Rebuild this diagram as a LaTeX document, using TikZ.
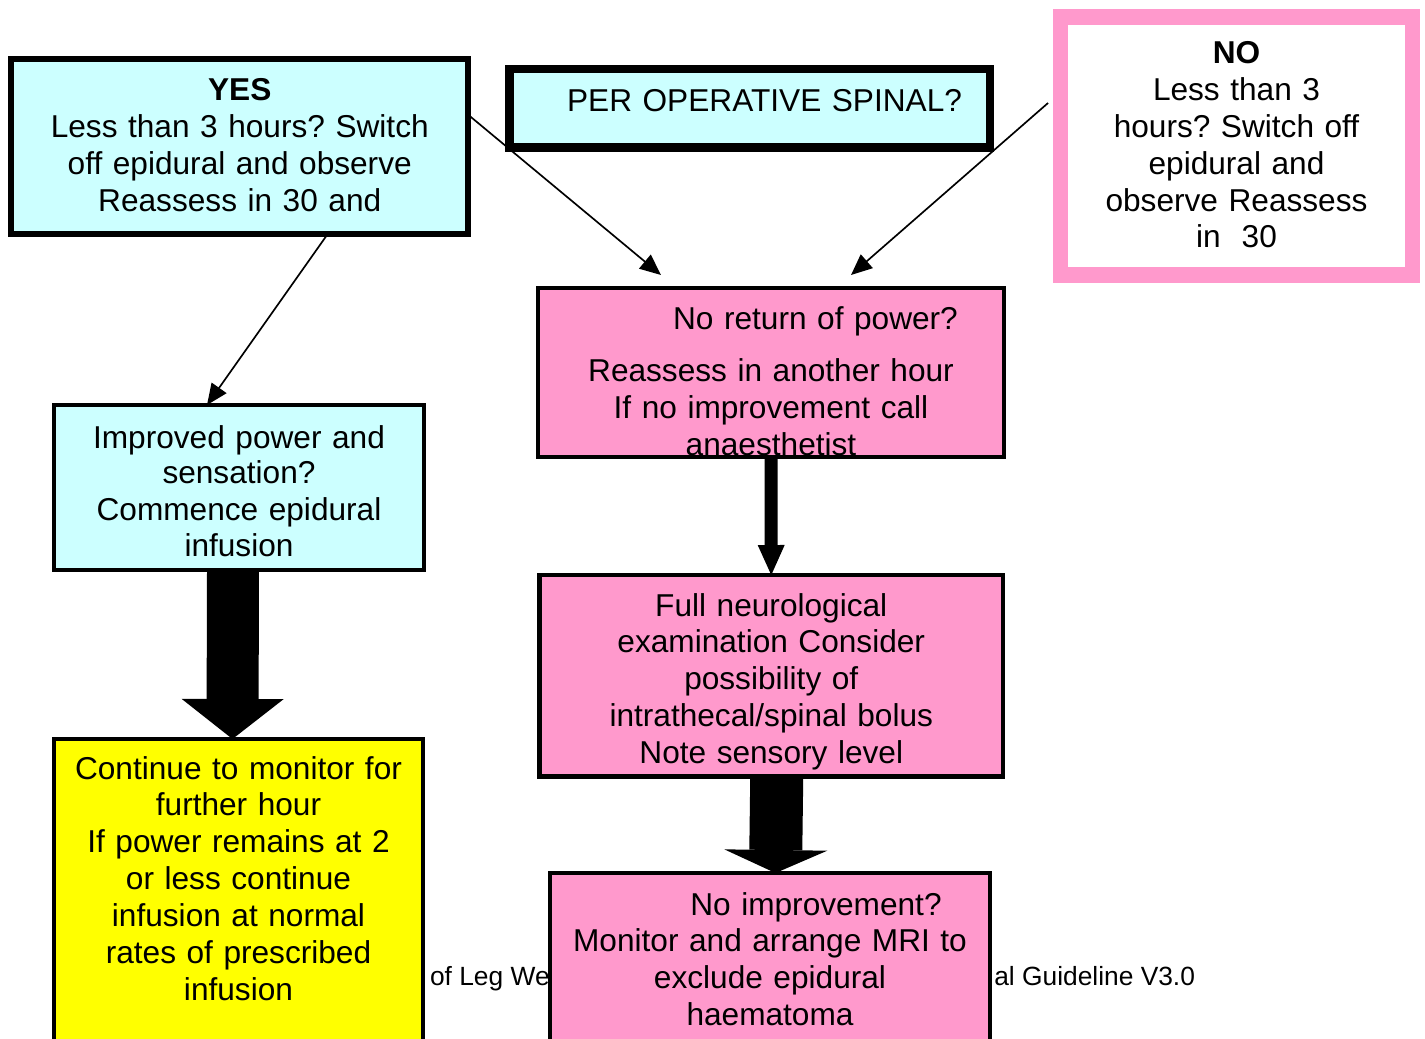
\documentclass[tikz,border=0pt]{standalone}
\usepackage{fontspec}
\setmainfont{Liberation Sans}
\usetikzlibrary{arrows.meta, calc, positioning}
\definecolor{boxcyan}{HTML}{CCFFFF}
\definecolor{boxpink}{HTML}{FF99CC}
\definecolor{boxyellow}{HTML}{FFFF00}
\newcommand{\stepfont}{\fontsize{18}{21}\selectfont}
\newcommand{\footfont}{\fontsize{15}{18}\selectfont}
\frenchspacing

\begin{document}
\begin{tikzpicture}[x=0.02cm, y=-0.02cm,
  every node/.style={outer sep=0pt},
  stepbox/.style={draw=black, inner sep=0pt, align=center, anchor=north, font=\stepfont},
  thinarrow/.style={draw=black, line width=0.95pt, -{Triangle[width=0.36cm, length=0.42cm]}},
  fatarrow/.style n args={3}{draw=black, line width=#1, -{Triangle[width=#2, length=#3, line width=0pt]}}
]

\useasboundingbox (0,0) rectangle (1425,1038);
\clip (0,0) rectangle (1425,1038);

% Footer (mostly hidden behind the boxes)
\node[font=\footfont, anchor=base west, inner sep=0pt] (footl) at (430,985) {of Leg We};
\node[font=\footfont, anchor=base east, inner sep=0pt] (footr) at (1195,985) {al Guideline V3.0};

% Top row
\node[
  stepbox,
  fill=boxcyan,
  line width=3.4pt,
  text width=9.15cm,
  text height=0.84cm,
  text depth=2.66cm
] (yes) at (239.75,59)
  {\textbf{YES}\\Less than 3 hours? Switch\\off epidural and observe\\Reassess in 30 and};
\node[
  stepbox,
  fill=boxcyan,
  line width=4.8pt,
  text width=9.61cm,
  text height=0.86cm,
  text depth=0.71cm
] (spinal) at (749.75,69)
  {\hspace*{0.59cm}PER OPERATIVE SPINAL?};
\node[
  stepbox,
  fill=white,
  draw=boxpink,
  line width=9pt,
  text width=7.04cm,
  text height=0.93cm,
  text depth=4.23cm
] (no) at (1236.5,17)
  {\textbf{NO}\\Less than 3\\hours? Switch off\\epidural and\\observe Reassess\\in\ \ 30};

% Left column
\node[
  stepbox,
  fill=boxcyan,
  line width=2.3pt,
  text width=7.4cm,
  text height=0.86cm,
  text depth=2.44cm
] (impr) at (239,405)
  {Improved power and\\[-1pt]sensation?\\Commence epidural\\infusion};
\node[
  stepbox,
  fill=boxyellow,
  line width=2.3pt,
  text width=7.4cm,
  text height=0.8cm,
  text depth=6.42cm
] (mon) at (238.5,739)
  {Continue to monitor for\\further hour\\If power remains at 2\\or less continue\\infusion at normal\\rates of prescribed\\infusion};

% Right column
\node[
  stepbox,
  fill=boxpink,
  line width=2.3pt,
  text width=9.32cm,
  text height=0.82cm,
  text depth=2.56cm
] (ret) at (771,288)
  {\hspace*{1.78cm}No return of power?\\[0.32cm]Reassess in another hour\\If no improvement call\\anaesthetist};
\node[
  stepbox,
  fill=boxpink,
  line width=2.8pt,
  text width=9.27cm,
  text height=0.82cm,
  text depth=3.21cm
] (full) at (771.25,575)
  {Full neurological\\examination Consider\\possibility of\\intrathecal/spinal bolus\\Note sensory level};
\node[
  stepbox,
  fill=boxpink,
  line width=2.3pt,
  text width=8.8cm,
  text height=0.84cm,
  text depth=3.7cm
] (noimp) at (770,873)
  {\hspace*{1.84cm}No improvement?\\Monitor and arrange MRI to\\exclude epidural\\haematoma};

% Thin connectors
\coordinate (tipyes) at (661,275);
\coordinate (tipno) at (851,275);
\draw[thinarrow] ([yshift=0.63cm]yes.east) -- (tipyes);
\draw[thinarrow] ([xshift=-0.25cm, yshift=0.86cm]no.west) -- (tipno);
\draw[thinarrow] ([xshift=1.76cm]yes.south) -- ([xshift=-0.64cm]impr.north);

% Block arrows
\draw[fatarrow={1.04cm}{2.04cm}{0.8cm}] ([xshift=-0.12cm]impr.south) -- ([xshift=-0.12cm]mon.north);
\draw[fatarrow={0.26cm}{0.54cm}{0.6cm}] (ret.south) -- (full.north);
\draw[fatarrow={1.06cm}{2.06cm}{0.46cm}] ([xshift=0.11cm]full.south) -- ([xshift=0.11cm]noimp.north);

\end{tikzpicture}
\end{document}
